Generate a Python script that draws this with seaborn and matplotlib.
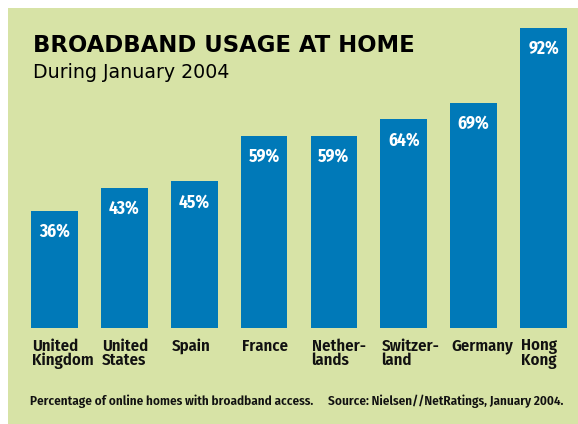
import matplotlib
matplotlib.use("Agg")
import matplotlib.pyplot as plt
import seaborn as sns
import pandas as pd
from matplotlib.patches import Rectangle

countries = ["United\nKingdom", "United\nStates", "Spain", "France",
             "Nether-\nlands", "Switzer-\nland", "Germany", "Hong\nKong"]
values = [36, 43, 45, 59, 59, 64, 69, 92]
title = "BROADBAND USAGE AT HOME"
subtitle = "During January 2004"
footer_left = "Percentage of online homes with broadband access."
footer_right = "Source: Nielsen//NetRatings, January 2004."

BG = "#d7e3a6"
BLUE = "#0079b8"
W, H = 578, 424
COND = ["Fira Sans Condensed", "DejaVu Sans"]

sns.set_theme(style="white")
plt.rcParams["font.family"] = COND

fig = plt.figure(figsize=(W / 100, H / 100), dpi=100)
fig.patch.set_facecolor("white")
fig.add_artist(Rectangle((8 / W, 0), 1 - 8 / W, 1 - 8 / H, transform=fig.transFigure,
                         facecolor=BG, edgecolor="none", zorder=0))

ax = fig.add_axes([19.5 / W, (H - 328) / H, 559 / W, 300 / H])
ax.set_facecolor("none")
df = pd.DataFrame({"country": countries, "value": values})
sns.barplot(data=df, x="country", y="value", color=BLUE, saturation=1,
            width=0.67, linewidth=0, ax=ax)
ax.set_xlim(-0.5, 7.5)
ax.set_ylim(0, 92)
for s in ax.spines.values():
    s.set_visible(False)
ax.set_xticks([])
ax.set_yticks([])
ax.set_xlabel("")
ax.set_ylabel("")

for i, (c, v) in enumerate(zip(countries, values)):
    ax.annotate(f"{v}%", (i, v), xytext=(0, -26), textcoords="offset pixels",
                ha="center", va="baseline", color="white", fontsize=12.5,
                fontweight="bold")
    ax.annotate(c, (i - 0.335, 0), xytext=(1, -10), textcoords="offset pixels",
                ha="left", va="top", color="#111111", fontsize=12,
                fontweight="semibold", linespacing=0.88)

fig.text(33 / W, 1 - 52.3 / H, title, ha="left", va="baseline", fontsize=16.4,
         fontweight="bold", color="black", family=["DejaVu Sans"])
fig.text(33 / W, 1 - 78 / H, subtitle, ha="left", va="baseline", fontsize=13.7,
         color="black", family=["DejaVu Sans"])
fig.text(30 / W, 1 - 405 / H, footer_left, ha="left", va="baseline", fontsize=9.4,
         fontweight="semibold", color="#111111")
fig.text(563 / W, 1 - 405 / H, footer_right, ha="right", va="baseline", fontsize=9.4,
         fontweight="semibold", color="#111111")

fig.savefig("out.png", dpi=100, facecolor=fig.get_facecolor())
